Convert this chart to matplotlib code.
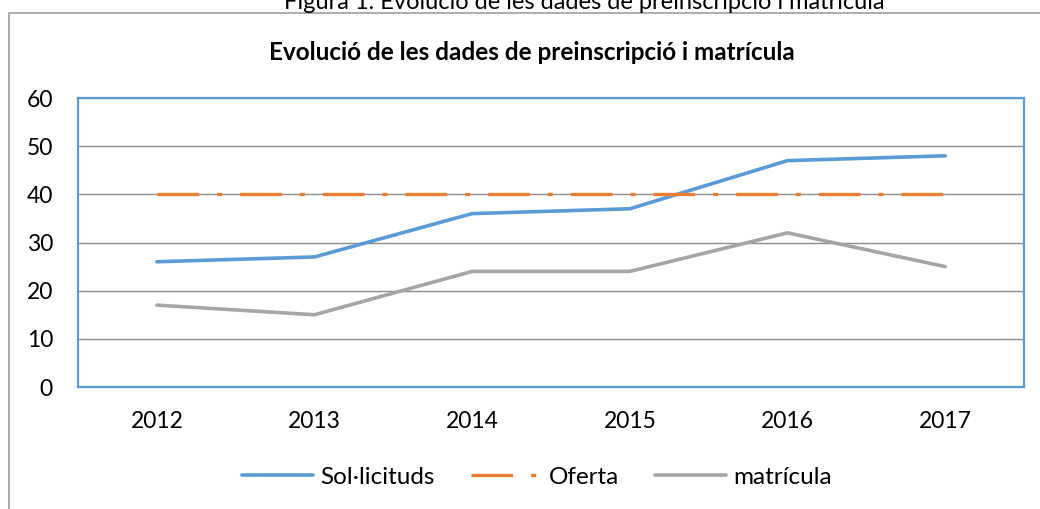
import matplotlib.pyplot as plt
from matplotlib.patches import Rectangle

plt.rcParams['font.family'] = ['Lato', 'DejaVu Sans']

years = ['2012', '2013', '2014', '2015', '2016', '2017']
solicituds = [26, 27, 36, 37, 47, 48]
oferta = [40, 40, 40, 40, 40, 40]
matricula = [17, 15, 24, 24, 32, 25]

blue = '#5B9BD5'
orange = '#ED7D31'
grey = '#A5A5A5'

fig = plt.figure(figsize=(10.4, 5.09), dpi=100)
ax = fig.add_axes([78 / 1040, 1 - 387 / 509, 946 / 1040, 289 / 509])

x = range(len(years))
ax.plot(x, solicituds, color=blue, lw=2.6, label='Sol·licituds', solid_capstyle='round')
ax.plot(x, oferta, color=orange, lw=2.4, label='Oferta',
        dashes=(12.5, 5.4, 1.5, 5.4), dash_capstyle='butt')
ax.plot(x, matricula, color=grey, lw=2.6, label='matrícula', solid_capstyle='round')

ax.set_xlim(-0.5, 5.5)
ax.set_ylim(0, 60)
ax.set_yticks(range(0, 61, 10))
ax.set_xticks(list(x))
ax.set_xticklabels(years)
ax.grid(axis='y', color='#8C8C8C', lw=1)
ax.set_axisbelow(True)
ax.tick_params(length=0, labelsize=16.5, colors='black')
ax.tick_params(axis='x', pad=17)
ax.tick_params(axis='y', pad=18)
for s in ax.spines.values():
    s.set_color(blue)
    s.set_linewidth(1.6)

ax.legend(loc='center', bbox_to_anchor=(537 / 1040, 1 - 477 / 509),
          bbox_transform=fig.transFigure, ncol=3, frameon=False,
          fontsize=17.5, handlelength=2.9, handletextpad=0.3, columnspacing=1.5)

fig.text(532 / 1040, 1 - 52 / 509, 'Evolució de les dades de preinscripció i matrícula',
         ha='center', va='center', fontsize=17.5, fontweight='bold')
fig.text(584 / 1040, 1 - 9 / 509, 'Figura 1. Evolució de les dades de preinscripció i matrícula',
         ha='center', va='baseline', fontsize=17, color='black')

fig.patches.append(Rectangle((8.5 / 1040, -0.1), 1.2, (1 - 12.5 / 509) + 0.1,
                             transform=fig.transFigure, fill=False,
                             edgecolor='#A6A6A6', lw=1.3, zorder=0))

fig.savefig('out.png', dpi=100)
